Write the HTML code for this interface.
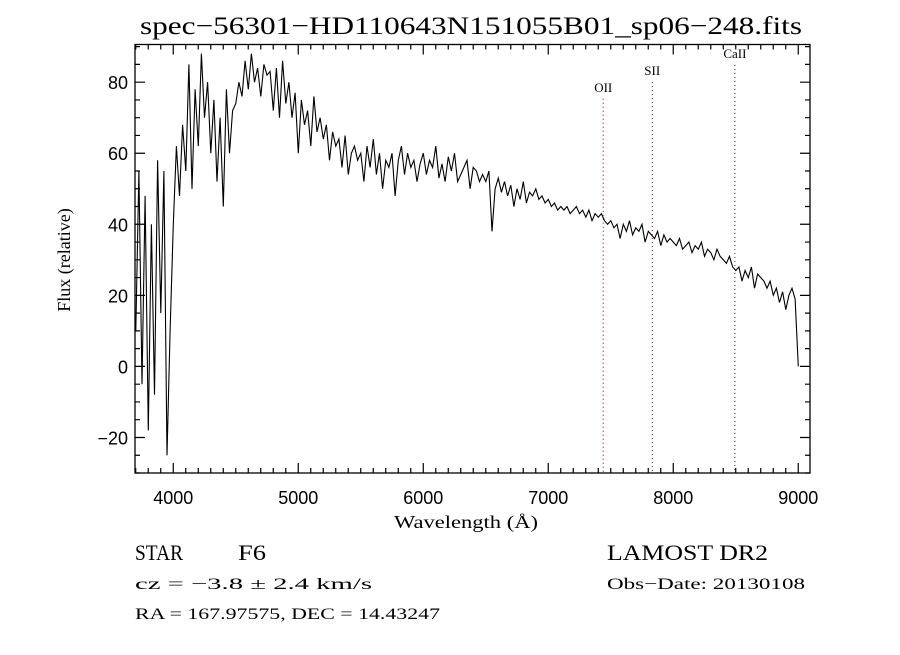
<!DOCTYPE html>
<html><head><meta charset="utf-8"><style>
body{margin:0;background:#fff;width:900px;height:650px;overflow:hidden}
svg text{fill:#000}
</style></head><body>
<svg id="c" width="900" height="650" xmlns="http://www.w3.org/2000/svg">
<rect width="900" height="650" fill="#fff"/>
<text x="140" y="34" textLength="662" lengthAdjust="spacingAndGlyphs" font-family="Liberation Serif, serif" font-size="25">spec−56301−HD110643N151055B01_sp06−248.fits</text>
<g id="axes"></g>
<g id="lines"></g>
<path id="spec" fill="none" stroke="#000" stroke-width="1.1"/>
<text x="394" y="528" textLength="144" lengthAdjust="spacingAndGlyphs" font-family="Liberation Serif, serif" font-size="18">Wavelength (Å)</text>
<text transform="translate(70,260) rotate(-90)" font-family="Liberation Serif, serif" font-size="18" text-anchor="middle">Flux (relative)</text>
<g font-family="Liberation Serif, serif">
<text x="135" y="560" textLength="48" lengthAdjust="spacingAndGlyphs" font-size="22">STAR</text>
<text x="238" y="560" textLength="28" lengthAdjust="spacingAndGlyphs" font-size="22">F6</text>
<text x="607" y="560" textLength="161" lengthAdjust="spacingAndGlyphs" font-size="22">LAMOST DR2</text>
<text x="135" y="589" textLength="237" lengthAdjust="spacingAndGlyphs" font-size="16">cz = −3.8 ± 2.4 km/s</text>
<text x="607" y="589" textLength="198" lengthAdjust="spacingAndGlyphs" font-size="16">Obs−Date: 20130108</text>
<text x="135" y="619" textLength="305" lengthAdjust="spacingAndGlyphs" font-size="16">RA = 167.97575, DEC =  14.43247</text>
</g>
</svg>
<script>
const waveStart = 3700;
const waveStep = 25;
const flux = [10,55,-5,48,-18,40,-8,58,15,55,-25,10,
40,62,48,68,55,85,50,78,62,88,70,80,60,75,52,70,45,78,60,72,
74,80,76,86,78,88,80,84,76,85,82,83,72,84,70,86,74,80,70,77,
60,75,68,72,62,76,66,70,64,68,58,66,62,64,56,65,54,60,62,58,
60,52,62,56,64,54,60,50,58,56,60,48,58,62,54,60,56,58,52,57,
60,54,58,56,62,53,57,52,59,55,60,52,54,56,58,50,56,55,52,54,
52,55,38,50,53,49,52,48,51,45,50,47,52,46,49,48,50,47,48,46,
47,45,46,44,45,44,45,43,44,45,43,44,42,44,41,43,42,43,41,40,
41,39,40,36,40,38,41,37,39,38,40,35,38,37,36,38,34,37,35,36,
35,34,36,33,34,35,32,34,33,35,31,33,32,30,33,31,30,29,31,28,
27,28,24,27,25,28,22,26,25,24,22,24,20,22,18,21,16,20,22,19,
0];
const xTicks = [4000,5000,6000,7000,8000,9000];
const yTicks = [-20,0,20,40,60,80];
const lineNames = ["OII","SII","CaII"];
const lineWaves = [7440,7832,8493];
const lineLabelY = [77.3,82,86.8];

const L=135,R=810,T=44.5,B=473;
const xmin=3694,xmax=9094,ymin=-30,ymax=90.6;
const sx=v=>L+(v-xmin)/(xmax-xmin)*(R-L);
const sy=v=>B-(v-ymin)/(ymax-ymin)*(B-T);
const NS="http://www.w3.org/2000/svg";
function mk(tag,parent,attrs){const e=document.createElementNS(NS,tag);for(const k in attrs)e.setAttribute(k,attrs[k]);parent.appendChild(e);return e;}
const ax=document.getElementById('axes');
const frame=mk('rect',ax,{x:L,y:T,width:R-L,height:B-T,fill:'none',stroke:'#000','stroke-width':1.3});


let d='';
for(let w=3700;w<=9094;w+=100){const x=sx(w);const len=(w%1000===0)?10:5;d+=`M${x},${B}v${-len}M${x},${T}v${len}`;}
for(let v=-30;v<=90;v+=5){const y=sy(v);const len=(v%20===0)?10:5;d+=`M${L},${y}h${len}M${R},${y}h${-len}`;}
const tp=mk('path',ax,{d:d,stroke:'#000','stroke-width':1.2,fill:'none'});


xTicks.forEach(v=>{const t=mk('text',ax,{x:sx(v),y:504,'text-anchor':'middle','font-family':'Liberation Sans, sans-serif','font-size':18});t.textContent=v;

});
yTicks.forEach(v=>{const t=mk('text',ax,{x:128,y:sy(v)+7,'text-anchor':'end','font-family':'Liberation Sans, sans-serif','font-size':18});t.textContent=(v<0?'−':'')+Math.abs(v);

});
const lg=document.getElementById('lines');
lineWaves.forEach((w,i)=>{const x=sx(w);
const l=mk('line',lg,{x1:x,x2:x,y1:sy(lineLabelY[i])+7,y2:B,stroke:'#5a2020','stroke-width':1,'stroke-dasharray':'1,3'});


const t=mk('text',lg,{x:x,y:sy(lineLabelY[i]),'text-anchor':'middle','font-family':'Liberation Serif, serif','font-size':13});
t.textContent=lineNames[i];

});
let p='';
flux.forEach((f,i)=>{p+=(i?'L':'M')+sx(waveStart+i*waveStep).toFixed(1)+','+sy(f).toFixed(1);});
document.getElementById('spec').setAttribute('d',p);
</script>
</body></html>
